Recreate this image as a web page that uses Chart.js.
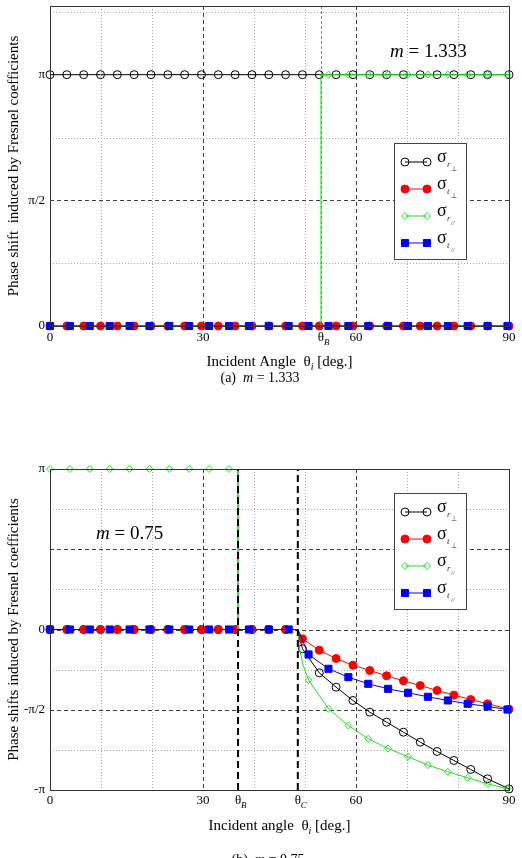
<!DOCTYPE html>
<html>
<head>
<meta charset="utf-8">
<script src="https://cdn.jsdelivr.net/npm/chart.js@4.4.1/dist/chart.umd.min.js"></script>
<style>
  html, body { margin: 0; padding: 0; background: #fff; }
  body { width: 522px; height: 858px; position: relative; overflow: hidden; }
  canvas { position: absolute; left: 0; }
  #panelA { top: 0; }
  #panelB { top: 440px; }
</style>
</head>
<body>
<canvas id="panelA" width="522" height="400"></canvas>
<canvas id="panelB" width="522" height="418"></canvas>
<script>
const PI = Math.PI;

// marker angles [deg]
const anglesPerp = [0, 3.3, 6.6, 9.9, 13.2, 16.5, 19.8, 23.1, 26.4, 29.7, 33, 36.3, 39.6, 42.9,
  46.2, 49.5, 52.8, 56.1, 59.4, 62.7, 66, 69.3, 72.6, 75.9, 79.2, 82.5, 85.8, 90];
const anglesPar = [0, 3.9, 7.8, 11.7, 15.6, 19.5, 23.4, 27.3, 31.2, 35.1, 39, 42.9, 46.8,
  50.7, 54.6, 58.5, 62.4, 66.3, 70.2, 74.1, 78, 81.9, 85.8, 89.7];

// (a) m = 1.333
const thetaBA = 53.13;
const rPerpA = [3.1416, 3.1416, 3.1416, 3.1416, 3.1416, 3.1416, 3.1416, 3.1416, 3.1416, 3.1416,
  3.1416, 3.1416, 3.1416, 3.1416, 3.1416, 3.1416, 3.1416, 3.1416, 3.1416, 3.1416,
  3.1416, 3.1416, 3.1416, 3.1416, 3.1416, 3.1416, 3.1416, 3.1416];
const tPerpA = [0, 0, 0, 0, 0, 0, 0, 0, 0, 0, 0, 0, 0, 0, 0, 0, 0, 0, 0, 0, 0, 0, 0, 0, 0, 0, 0, 0];
const rParA = [0, 0, 0, 0, 0, 0, 0, 0, 0, 0, 0, 0, 0, 0,
  3.1416, 3.1416, 3.1416, 3.1416, 3.1416, 3.1416, 3.1416, 3.1416, 3.1416, 3.1416];
const tParA = [0, 0, 0, 0, 0, 0, 0, 0, 0, 0, 0, 0, 0, 0, 0, 0, 0, 0, 0, 0, 0, 0, 0, 0];
// extra vertices of the curves (step at Brewster angle, end points)
const rPerpAEdges = [];
const tPerpAEdges = [];
const rParAEdges = [[53.13, 0], [53.13, 3.1416], [90, 3.1416]];
const tParAEdges = [[90, 0]];

// (b) m = 0.75
const thetaBB = 36.87;
const thetaCB = 48.59;
const rPerpB = [0, 0, 0, 0, 0, 0, 0, 0, 0, 0, 0, 0, 0, 0, 0,
  -0.378, -0.848, -1.129, -1.389, -1.618, -1.814, -2.010, -2.205, -2.388, -2.564, -2.740, -2.922, -3.12];
const tPerpB = [0, 0, 0, 0, 0, 0, 0, 0, 0, 0, 0, 0, 0, 0, 0,
  -0.183, -0.405, -0.568, -0.698, -0.802, -0.906, -1.004, -1.096, -1.194, -1.285, -1.370, -1.454, -1.56];
const rParB = [3.1416, 3.1416, 3.1416, 3.1416, 3.1416, 3.1416, 3.1416, 3.1416, 3.1416, 3.1416, 0, 0, 0,
  -0.992, -1.552, -1.879, -2.139, -2.329, -2.491, -2.655, -2.785, -2.902, -3.020, -3.118];
const tParB = [0, 0, 0, 0, 0, 0, 0, 0, 0, 0, 0, 0, 0,
  -0.489, -0.769, -0.933, -1.063, -1.161, -1.239, -1.317, -1.389, -1.454, -1.507, -1.566];
const rPerpBEdges = [[48.59, 0]];
const tPerpBEdges = [[48.59, 0]];
const rParBEdges = [[36.87, 3.1416], [36.87, 0], [48.59, 0], [49.0, -0.42], [49.7, -0.72], [90, -3.1416]];
const tParBEdges = [[48.59, 0], [90, -1.5708]];

// ticks
const xTicksA = [0, 30, thetaBA, 60, 90];
const xTickLabelsA = ['0', '30', 'θ', '60', '90'];
const yTicksA = [0, PI / 2, PI];
const yTickLabelsA = ['0', 'π/2', 'π'];
const xTicksB = [0, 30, thetaBB, thetaCB, 60, 90];
const xTickLabelsB = ['0', '30', 'θ', 'θ', '60', '90'];
const yTicksB = [-PI, -PI / 2, 0, PI / 2, PI];
const yTickLabelsB = ['-π', '-π/2', '0', '', 'π'];

const styles = {
  rPerp: { color: '#000000', marker: 'circle', r: 4, fill: 'rgba(0,0,0,0)', sub: 'r', sub2: '⊥' },
  tPerp: { color: '#ff0000', marker: 'circle', r: 4, fill: '#ff0000', sub: 't', sub2: '⊥' },
  rPar: { color: '#22dd22', marker: 'rectRot', r: 3.5, fill: 'rgba(0,0,0,0)', sub: 'r', sub2: '//' },
  tPar: { color: '#0000ff', marker: 'rect', r: 5, fill: '#0000ff', sub: 't', sub2: '//' },
};

const SERIF = '"Liberation Serif", "Times New Roman", serif';
function font(size, italic) { return (italic ? 'italic ' : '') + size + 'px ' + SERIF; }

function drawRuns(ctx, runs, x, y, align) {
  let w = 0;
  runs.forEach(r => { ctx.font = font(r.size, r.italic); r.w = ctx.measureText(r.t).width; w += r.w; });
  let cx = align === 'center' ? x - w / 2 : x;
  runs.forEach(r => { ctx.font = font(r.size, r.italic); ctx.fillText(r.t, cx, y + (r.dy || 0)); cx += r.w; });
}

function toPoints(xs, ys) { return xs.map((x, i) => ({ x, y: ys[i] })); }

function seriesDatasets(xs, ys, edges, st, order) {
  const marks = toPoints(xs, ys);
  const line = marks.concat(edges.map(([x, y]) => ({ x, y }))).sort((a, b) => a.x - b.x);
  return [
    { data: line, showLine: true, borderColor: st.color, borderWidth: 1, pointRadius: 0, order: order + 1 },
    { data: marks, showLine: false, pointStyle: st.marker, pointRadius: st.r, pointBorderColor: st.color,
      pointBackgroundColor: st.fill, pointBorderWidth: 1, clip: false, order },
  ];
}

function drawMarker(ctx, st, x, y) {
  ctx.fillStyle = st.fill;
  ctx.strokeStyle = st.color;
  ctx.lineWidth = 1;
  ctx.beginPath();
  if (st.marker === 'circle') ctx.arc(x, y, st.r, 0, 2 * PI);
  else if (st.marker === 'rect') { const s = st.r * Math.SQRT1_2; ctx.rect(x - s, y - s, 2 * s, 2 * s); }
  else { ctx.moveTo(x - st.r, y); ctx.lineTo(x, y - st.r); ctx.lineTo(x + st.r, y); ctx.lineTo(x, y + st.r); ctx.closePath(); }
  ctx.fill();
  ctx.stroke();
}

function panelPlugin(p) {
  return {
    id: 'panel' + p.id,
    beforeDatasetsDraw(chart) {
      const { ctx, chartArea: a, scales: { x, y } } = chart;
      ctx.save();
      ctx.lineWidth = 1;
      const vl = (val, color, dash) => {
        const px = Math.round(x.getPixelForValue(val)) + 0.5;
        ctx.strokeStyle = color; ctx.setLineDash(dash);
        ctx.beginPath(); ctx.moveTo(px, a.top); ctx.lineTo(px, a.bottom); ctx.stroke();
      };
      const hl = (val, color, dash) => {
        const py = Math.round(y.getPixelForValue(val)) + 0.5;
        ctx.strokeStyle = color; ctx.setLineDash(dash);
        ctx.beginPath(); ctx.moveTo(a.left, py); ctx.lineTo(a.right, py); ctx.stroke();
      };
      p.xMinor.forEach(v => vl(v, '#a8a8a8', [1, 2]));
      p.yMinor.forEach(v => hl(v, '#a8a8a8', [1, 2]));
      p.xMajor.forEach(v => vl(v, '#404040', [4, 3]));
      p.yMajor.forEach(v => hl(v, '#404040', [4, 3]));
      if (p.tickLine !== undefined) vl(p.tickLine, '#a0708c', [3, 2]);
      ctx.restore();
    },
    afterDatasetsDraw(chart) {
      const { ctx, chartArea: a } = chart;
      ctx.save();
      ctx.strokeStyle = '#333';
      ctx.lineWidth = 1;
      ctx.strokeRect(Math.round(a.left) + 0.5, Math.round(a.top) + 0.5, Math.round(a.right - a.left), Math.round(a.bottom - a.top));
      ctx.restore();
    },
    afterDraw(chart) {
      const { ctx, chartArea: a, scales: { x } } = chart;
      ctx.save();
      ctx.fillStyle = '#000';
      ctx.textBaseline = 'alphabetic';
      // legend
      const L = p.legend;
      ctx.fillStyle = '#fff';
      ctx.fillRect(L.x, L.y, 72, 116);
      ctx.strokeStyle = '#444';
      ctx.lineWidth = 1;
      ctx.strokeRect(L.x + 0.5, L.y + 0.5, 72, 116);
      ['rPerp', 'tPerp', 'rPar', 'tPar'].forEach((k, i) => {
        const st = styles[k];
        const ry = L.y + 19 + i * 27;
        ctx.strokeStyle = st.color;
        ctx.beginPath(); ctx.moveTo(L.x + 11, ry); ctx.lineTo(L.x + 33, ry); ctx.stroke();
        drawMarker(ctx, st, L.x + 11, ry);
        drawMarker(ctx, st, L.x + 33, ry);
        ctx.fillStyle = '#000';
        ctx.font = font(18, false);
        ctx.fillText('σ', L.x + 43, ry);
        ctx.fillStyle = '#333';
        ctx.font = font(9, true);
        ctx.fillText(st.sub, L.x + 53, ry + 5);
        ctx.font = font(st.sub2 === '//' ? 6 : 7, st.sub2 === '//');
        ctx.fillText(st.sub2, L.x + 57, ry + 9);
      });
      ctx.fillStyle = '#000';
      // tick subscripts
      p.tickSubs.forEach(([v, s]) => drawRuns(ctx, [{ t: s, size: 9, italic: true }], x.getPixelForValue(v) + 3, a.bottom + p.subDy, 'left'));
      // m label
      drawRuns(ctx, [{ t: 'm', size: 19, italic: true }, { t: ' = ' + p.m, size: 19 }], p.mPos[0], p.mPos[1], 'left');
      // x title
      drawRuns(ctx, [{ t: p.xTitle, size: 15 }, { t: 'i', size: 10, italic: true, dy: 4 }, { t: ' [deg.]', size: 15 }],
        (a.left + a.right) / 2, p.xTitleY, 'center');
      // y title
      ctx.save();
      ctx.translate(18, (a.top + a.bottom) / 2 + p.yTitleDy);
      ctx.rotate(-PI / 2);
      drawRuns(ctx, [{ t: p.yTitle, size: 15 }], 0, 0, 'center');
      ctx.restore();
      // caption
      drawRuns(ctx, [{ t: p.capLetter + '  ', size: 14 }, { t: 'm', size: 14, italic: true }, { t: ' = ' + p.m, size: 14 }],
        p.capPos[0], p.capPos[1], 'center');
      ctx.restore();
    },
  };
}

function makeChart(id, cfg) {
  const canvas = document.getElementById(id);
  const H = canvas.height;
  const tickFont = { family: SERIF, size: 13 };
  const datasets = [].concat(
    seriesDatasets(anglesPar, cfg.tPar, cfg.tParEdges, styles.tPar, 1),
    seriesDatasets(anglesPar, cfg.rPar, cfg.rParEdges, styles.rPar, 3),
    seriesDatasets(anglesPerp, cfg.tPerp, cfg.tPerpEdges, styles.tPerp, 5),
    seriesDatasets(anglesPerp, cfg.rPerp, cfg.rPerpEdges, styles.rPerp, 7),
    cfg.extra || []
  );
  return new Chart(canvas, {
    type: 'scatter',
    data: { datasets },
    options: {
      responsive: false,
      animation: false,
      events: [],
      layout: { padding: { top: cfg.top, right: 13, left: 0, bottom: 0 } },
      plugins: { legend: { display: false }, tooltip: { enabled: false } },
      scales: {
        x: {
          type: 'linear', min: 0, max: 90,
          afterBuildTicks: s => { s.ticks = cfg.xTicks.map(v => ({ value: v })); },
          afterFit: s => { s.height = H - cfg.bottom; s.paddingLeft = 0; s.paddingRight = 0; },
          ticks: { autoSkip: false, maxRotation: 0, padding: cfg.xPad, color: '#000', font: tickFont,
            callback: (v, i) => cfg.xLabels[i] },
          grid: { display: false, drawTicks: false },
          border: { display: false },
        },
        y: {
          type: 'linear', min: cfg.yMin, max: cfg.yMax,
          afterBuildTicks: s => { s.ticks = cfg.yTicks.map(v => ({ value: v })); },
          afterFit: s => { s.width = 50; s.paddingTop = 0; s.paddingBottom = 0; },
          ticks: { autoSkip: false, padding: 5, color: '#000', font: tickFont,
            callback: (v, i) => cfg.yLabels[i] },
          grid: { display: false, drawTicks: false },
          border: { display: false },
        },
      },
    },
    plugins: [panelPlugin(cfg.panel)],
  });
}

makeChart('panelA', {
  top: 5, bottom: 326, xPad: 4, yMin: 0, yMax: 4,
  xTicks: xTicksA, xLabels: xTickLabelsA, yTicks: yTicksA, yLabels: yTickLabelsA,
  rPerp: rPerpA, tPerp: tPerpA, rPar: rParA, tPar: tParA,
  rPerpEdges: rPerpAEdges, tPerpEdges: tPerpAEdges, rParEdges: rParAEdges, tParEdges: tParAEdges,
  panel: {
    id: 'A', m: '1.333', capLetter: '(a)', capPos: [260, 382], mPos: [390, 57],
    xTitle: 'Incident Angle  θ', xTitleY: 366,
    yTitle: 'Phase shift  induced by Fresnel coefficients', yTitleDy: 0,
    xMinor: [10, 20, 40, 50, 70, 80], xMajor: [30, 60], yMinor: [PI / 4, 3 * PI / 4, 5 * PI / 4], yMajor: [PI / 2],
    tickLine: thetaBA, tickSubs: [[thetaBA, 'B']], subDy: 19,
    legend: { x: 394, y: 143 },
  },
});

makeChart('panelB', {
  top: 29, bottom: 350, xPad: 3, yMin: -PI, yMax: PI,
  xTicks: xTicksB, xLabels: xTickLabelsB, yTicks: yTicksB, yLabels: yTickLabelsB,
  rPerp: rPerpB, tPerp: tPerpB, rPar: rParB, tPar: tParB,
  rPerpEdges: rPerpBEdges, tPerpEdges: tPerpBEdges, rParEdges: rParBEdges, tParEdges: tParBEdges,
  extra: [thetaBB, thetaCB].map(v => ({
    data: [{ x: v, y: -PI }, { x: v, y: PI }], showLine: true, borderColor: '#000', borderWidth: 2,
    borderDash: [7, 4], pointRadius: 0, order: 0,
  })),
  panel: {
    id: 'B', m: '0.75', capLetter: '(b)', capPos: [268, 424], mPos: [96, 99],
    xTitle: 'Incident angle  θ', xTitleY: 390,
    yTitle: 'Phase shifts induced by Fresnel coefficients', yTitleDy: 0,
    xMinor: [10, 20, 40, 50, 70, 80], xMajor: [30, 60], yMinor: [-3 * PI / 4, -PI / 4, PI / 4, 3 * PI / 4], yMajor: [-PI / 2, 0, PI / 2],
    tickSubs: [[thetaBB, 'B'], [thetaCB, 'C']], subDy: 18,
    legend: { x: 394, y: 53 },
  },
});
</script>
</body>
</html>
